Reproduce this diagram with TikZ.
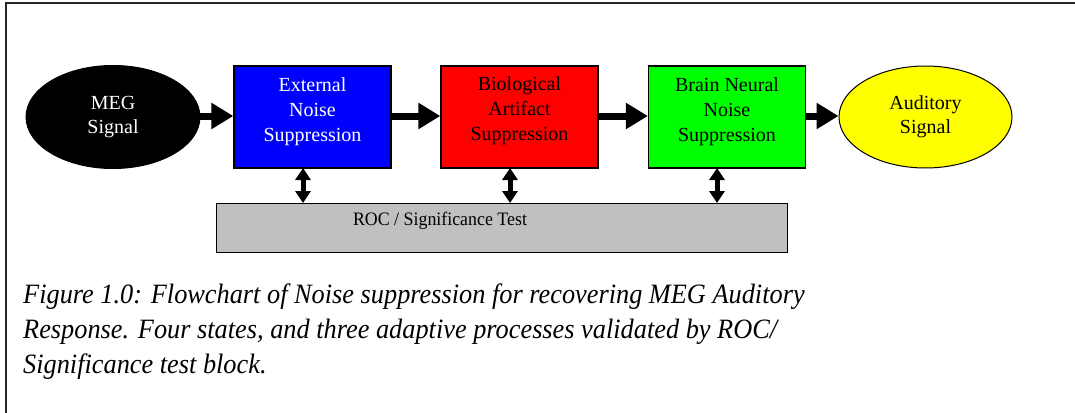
\documentclass[tikz,border=0pt]{standalone}
\usepackage{fontspec}
\setmainfont{Liberation Serif}
\newfontfamily\narrowserif[FakeStretch=0.94]{Liberation Serif}
\usetikzlibrary{shapes.geometric,arrows.meta}
\definecolor{rocgrey}{RGB}{192,192,192}
\tikzset{
  blk/.style={draw=black, line width=1.3pt, minimum width=157pt, minimum height=102pt, inner sep=0pt},
  ell/.style={ellipse, draw=black, line width=1pt, minimum width=174pt, minimum height=103pt, inner sep=0pt, align=center, font=\fontsize{20}{24}\selectfont},
  lbl/.style={align=center, font=\fontsize{20}{25}\selectfont, inner sep=0pt},
  flow/.style={line width=7pt, -{Triangle[length=22pt,width=25pt]}, shorten <=-1pt},
  bidir/.style={line width=5pt, {Triangle[length=12pt,width=15pt]}-{Triangle[length=12pt,width=15pt]}},
}
\begin{document}
\begin{tikzpicture}[x=1pt,y=-1pt]
\useasboundingbox (0,0) rectangle (1075,412);
\draw[line width=2pt, draw=black!85] (1076,3) -- (6,3) -- (6,413);
% nodes
\node[ell, fill=black, text=white] (meg) at (113,117) {MEG\\Signal};
\node[blk, fill={rgb,255:red,0;green,0;blue,255}] (ext) at (312.5,117) {};
\node[lbl, text=white] (extt) at (312.5,112) {External\\Noise\\Suppression};
\node[blk, fill={rgb,255:red,255;green,0;blue,0}] (bio) at (519.5,117) {};
\node[lbl] (biot) at (519.5,111) {Biological\\Artifact\\Suppression};
\node[blk, fill={rgb,255:red,0;green,255;blue,0}] (brn) at (727,117) {};
\node[lbl] (brnt) at (727,112) {Brain Neural\\Noise\\Suppression};
\node[ell, fill={rgb,255:red,255;green,255;blue,0}, minimum width=173pt, minimum height=102pt] (aud) at (925.5,117) {Auditory\\Signal};
\node[draw=black, line width=1.3pt, fill=rocgrey, minimum width=571pt, minimum height=49pt, inner sep=0pt, anchor=north west] (roc) at (216,203) {};
\node[font=\narrowserif\fontsize{19}{24}\selectfont, inner sep=0pt] (roct) at (440,221) {ROC / Significance Test};
% connectors
\draw[flow] (meg.east |- 0,116) -- (ext.west |- 0,116);
\draw[flow] (ext.east |- 0,116) -- (bio.west |- 0,116);
\draw[flow] (bio.east |- 0,116) -- (brn.west |- 0,116);
\draw[flow] (brn.east |- 0,116) -- (aud.west |- 0,116);
\draw[bidir] (303,168) coordinate (c1) -- (c1 |- roc.north);
\draw[bidir] (510,168) coordinate (c2) -- (c2 |- roc.north);
\draw[bidir] (717,168) coordinate (c3) -- (c3 |- roc.north);
% caption
\node[anchor=north west, align=left, inner sep=0pt, font=\narrowserif\fontsize{28}{35}\selectfont\itshape] (cap) at (23,284) {Figure 1.0: Flowchart of Noise suppression for recovering MEG Auditory\\Response. Four states, and three adaptive processes validated by ROC/\\Significance test block.};
\end{tikzpicture}
\end{document}
